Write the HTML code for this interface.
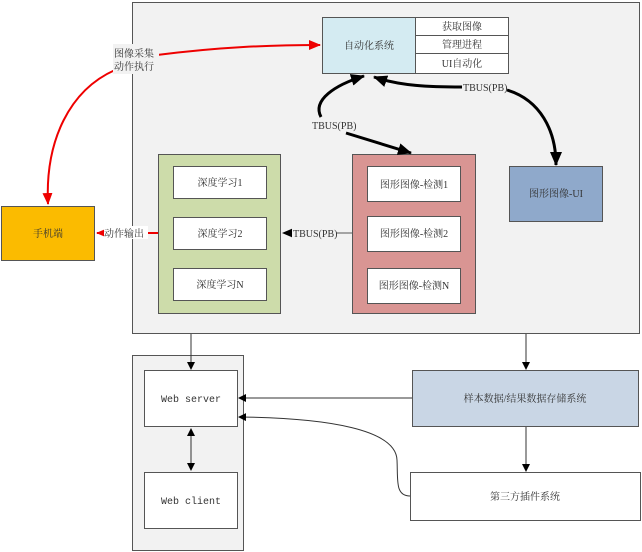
<!DOCTYPE html>
<html><head><meta charset="utf-8"><style>
html,body{margin:0;padding:0;background:#fff;}
svg{display:block;}
text{font-family:"Liberation Serif","Noto Serif CJK SC",serif;font-size:10px;fill:#333;}
.m{font-family:"Liberation Mono","Noto Serif CJK SC",monospace;font-size:10px;}
</style></head><body>
<svg width="642" height="552" viewBox="0 0 642 552" xmlns="http://www.w3.org/2000/svg">
<defs>
<marker id="bk" markerWidth="8" markerHeight="8" refX="7" refY="4" orient="auto" markerUnits="userSpaceOnUse"><path d="M0,0 L8,4 L0,8 Z" fill="#000"/></marker>
<marker id="bkL" markerWidth="14" markerHeight="12" refX="13" refY="6" orient="auto" markerUnits="userSpaceOnUse"><path d="M0,0 L14,6 L0,12 Z" fill="#000"/></marker>
<marker id="rd" markerWidth="12" markerHeight="10" refX="11" refY="5" orient="auto" markerUnits="userSpaceOnUse"><path d="M0,0 L12,5 L0,10 Z" fill="#e00"/></marker>
</defs>
<!-- main container -->
<rect x="132.5" y="2.5" width="507" height="331" fill="#f2f2f2" stroke="#555"/>
<!-- automation -->
<rect x="322.5" y="17.5" width="93" height="56" fill="#d4ebf2" stroke="#555"/>
<text x="369" y="49" text-anchor="middle">自动化系统</text>
<rect x="415.5" y="17.5" width="93" height="56" fill="#fff" stroke="#555"/>
<line x1="415" y1="35.5" x2="509" y2="35.5" stroke="#555"/>
<line x1="415" y1="53.5" x2="509" y2="53.5" stroke="#555"/>
<text x="462" y="30" text-anchor="middle">获取图像</text>
<text x="462" y="48" text-anchor="middle">管理进程</text>
<text x="462" y="67" text-anchor="middle">UI自动化</text>
<!-- green -->
<rect x="158.5" y="154.5" width="122" height="159" fill="#cddcaa" stroke="#555"/>
<rect x="173.5" y="166.5" width="93" height="32" fill="#fff" stroke="#555"/>
<rect x="173.5" y="217.5" width="93" height="32" fill="#fff" stroke="#555"/>
<rect x="173.5" y="268.5" width="93" height="32" fill="#fff" stroke="#555"/>
<text x="220" y="186" text-anchor="middle">深度学习1</text>
<text x="220" y="237" text-anchor="middle">深度学习2</text>
<text x="220" y="288" text-anchor="middle">深度学习N</text>
<!-- red -->
<rect x="352.5" y="154.5" width="123" height="159" fill="#d99593" stroke="#555"/>
<rect x="367.5" y="166.5" width="93" height="35" fill="#fff" stroke="#555"/>
<rect x="367.5" y="216.5" width="93" height="35" fill="#fff" stroke="#555"/>
<rect x="367.5" y="268.5" width="93" height="35" fill="#fff" stroke="#555"/>
<text x="414" y="188" text-anchor="middle">图形图像-检测1</text>
<text x="414" y="237" text-anchor="middle">图形图像-检测2</text>
<text x="414" y="289" text-anchor="middle">图形图像-检测N</text>
<!-- UI -->
<rect x="509.5" y="166.5" width="93" height="55" fill="#8fa9cb" stroke="#555"/>
<text x="556" y="197" text-anchor="middle">图形图像-UI</text>
<!-- phone -->
<rect x="1.5" y="206.5" width="93" height="54" fill="#fbbb00" stroke="#555"/>
<text x="48" y="237" text-anchor="middle">手机端</text>
<!-- red arrows -->
<path d="M157,55 C220,47 270,45 320,45" fill="none" stroke="#e00" stroke-width="2" marker-end="url(#rd)"/>
<path d="M115,70 C70,90 45,140 48,204" fill="none" stroke="#e00" stroke-width="2" marker-end="url(#rd)"/>
<rect x="113" y="44" width="46" height="30" fill="#f2f2f2"/>
<text x="114" y="57">图像采集</text>
<text x="114" y="70">动作执行</text>
<line x1="158" y1="233" x2="97" y2="233" stroke="#e00" stroke-width="2" marker-end="url(#rd)"/>
<rect x="104" y="226" width="44" height="13" fill="#fff"/>
<text x="104" y="237">动作输出</text>
<!-- middle TBUS -->
<line x1="352" y1="233" x2="283" y2="233" stroke="#555" marker-end="url(#bkL)"/>
<rect x="292" y="226" width="44" height="13" fill="#f2f2f2"/>
<text x="293" y="237">TBUS(PB)</text>
<!-- thick black -->
<path d="M321,117 C312,100 335,85 364,76" fill="none" stroke="#000" stroke-width="3" marker-end="url(#bkL)"/>
<path d="M346,133 L411,153" fill="none" stroke="#000" stroke-width="3" marker-end="url(#bkL)"/>
<path d="M462,87 C430,87 400,86 374,77" fill="none" stroke="#000" stroke-width="3" marker-end="url(#bkL)"/>
<path d="M507,90 C540,100 556,130 556,165" fill="none" stroke="#000" stroke-width="3" marker-end="url(#bkL)"/>
<text x="312" y="129">TBUS(PB)</text>
<text x="463" y="91">TBUS(PB)</text>
<!-- lower -->
<rect x="132.5" y="355.5" width="111" height="195" fill="#f2f2f2" stroke="#555"/>
<rect x="144.5" y="370.5" width="93" height="56" fill="#fff" stroke="#555"/>
<rect x="144.5" y="472.5" width="93" height="56" fill="#fff" stroke="#555"/>
<text x="191" y="402" text-anchor="middle" class="m">Web server</text>
<text x="191" y="504" text-anchor="middle" class="m">Web client</text>
<rect x="412.5" y="370.5" width="226" height="56" fill="#c9d6e5" stroke="#555"/>
<text x="525" y="402" text-anchor="middle">样本数据/结果数据存储系统</text>
<rect x="410.5" y="472.5" width="230" height="48" fill="#fff" stroke="#555"/>
<text x="525" y="500" text-anchor="middle">第三方插件系统</text>
<line x1="191" y1="334" x2="191" y2="369" stroke="#333" marker-end="url(#bk)"/>
<line x1="526" y1="334" x2="526" y2="369" stroke="#333" marker-end="url(#bk)"/>
<line x1="526" y1="427" x2="526" y2="471" stroke="#333" marker-end="url(#bk)"/>
<line x1="191" y1="435" x2="191" y2="463" stroke="#333"/>
<path d="M191,428 L195,436 L187,436 Z" fill="#000"/>
<path d="M191,471 L195,463 L187,463 Z" fill="#000"/>
<line x1="412" y1="398" x2="239" y2="398" stroke="#333" marker-end="url(#bk)"/>
<path d="M410,496 C395,496 398,480 397,460 C396,430 330,418 239,417" fill="none" stroke="#333" marker-end="url(#bk)"/>
</svg>
</body></html>
